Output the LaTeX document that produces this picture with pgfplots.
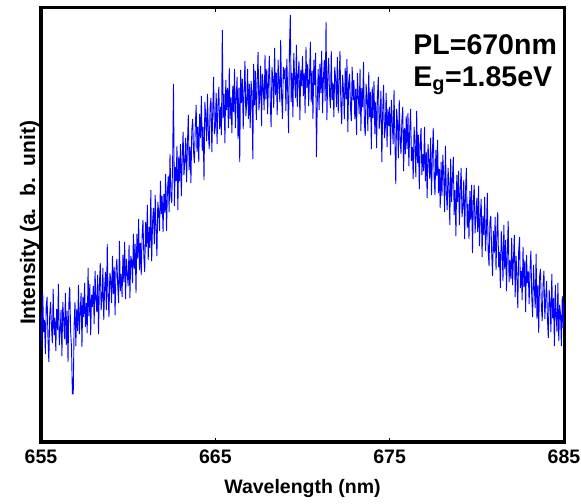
\documentclass[border=0pt]{standalone}
\usepackage{pgfplots}
\pgfplotsset{compat=1.18}
\usepackage{fontspec}
\setmainfont{Liberation Sans}

\begin{document}
\begin{tikzpicture}
\begin{axis}[
    name=ax,
    scale only axis,
    width=523bp, height=434bp,
    xmin=655, xmax=685,
    ymin=0, ymax=434,
    xtick={655,665,675,685},
    ytick=\empty,
    every axis/.append style={line width=3bp},
    axis line style={line width=3bp},
    major tick length=4bp,
    tick style={black, line width=1.5bp},
    /pgf/number format/assume math mode=true,
    xticklabel style={font=\fontsize{19.5bp}{22bp}\selectfont\bfseries,
        anchor=base, inner sep=0pt, yshift=-21bp},
    xlabel={Wavelength (nm)},
    xlabel style={font=\fontsize{19.5bp}{22bp}\selectfont\bfseries,
        at={(rel axis cs:0.5,0)}, anchor=base, inner sep=0pt, yshift=-51bp},
    ylabel={Intensity (a.\ \ b.\ \ unit)},
    ylabel style={font=\fontsize{21bp}{24bp}\selectfont\bfseries,
        at={(rel axis cs:0,0.52)}, anchor=south, inner sep=0pt, xshift=-6.5bp},
]
% PL spectrum, 0.05 nm steps, intensity in arbitrary units
\addplot[blue, line width=0.9bp, line join=bevel, no marks] coordinates {
(655.00,130) (655.05,93) (655.10,149) (655.15,110) (655.20,122) (655.25,88) (655.30,136) (655.35,145) (655.40,104) (655.45,80)
(655.50,127) (655.55,140) (655.60,115) (655.65,99) (655.70,153) (655.75,107) (655.80,124) (655.85,91) (655.90,133) (655.95,112)
(656.00,158) (656.05,97) (656.10,110) (656.15,132) (656.20,86) (656.25,140) (656.30,122) (656.35,103) (656.40,149) (656.45,97)
(656.50,131) (656.55,80) (656.60,139) (656.65,155) (656.70,110) (656.75,95) (656.80,48) (656.85,48) (656.90,118) (656.95,140)
(657.00,96) (657.05,133) (657.10,111) (657.15,157) (657.20,108) (657.25,130) (657.30,149) (657.35,95) (657.40,145) (657.45,125)
(657.50,159) (657.55,115) (657.60,139) (657.65,109) (657.70,174) (657.75,126) (657.80,158) (657.85,107) (657.90,147) (657.95,135)
(658.00,156) (658.05,118) (658.10,171) (658.15,143) (658.20,130) (658.25,167) (658.30,108) (658.35,157) (658.40,179) (658.45,132)
(658.50,143) (658.55,174) (658.60,122) (658.65,154) (658.70,170) (658.75,132) (658.80,198) (658.85,145) (658.90,125) (658.95,169)
(659.00,163) (659.05,139) (659.10,186) (659.15,148) (659.20,175) (659.25,127) (659.30,171) (659.35,183) (659.40,157) (659.45,139)
(659.50,201) (659.55,151) (659.60,168) (659.65,145) (659.70,187) (659.75,160) (659.80,200) (659.85,143) (659.90,183) (659.95,168)
(660.00,156) (660.05,197) (660.10,144) (660.15,186) (660.20,181) (660.25,159) (660.30,208) (660.35,173) (660.40,198) (660.45,149)
(660.50,208) (660.55,183) (660.60,223) (660.65,172) (660.70,199) (660.75,167) (660.80,207) (660.85,222) (660.90,185) (660.95,170)
(661.00,220) (661.05,195) (661.10,237) (661.15,182) (661.20,215) (661.25,194) (661.30,252) (661.35,181) (661.40,220) (661.45,234)
(661.50,198) (661.55,247) (661.60,212) (661.65,186) (661.70,240) (661.75,230) (661.80,211) (661.85,261) (661.90,228) (661.95,246)
(662.00,210) (662.05,248) (662.10,229) (662.15,268) (662.20,211) (662.25,250) (662.30,266) (662.35,230) (662.40,288) (662.45,246)
(662.50,239) (662.55,279) (662.60,358) (662.65,236) (662.70,275) (662.75,261) (662.80,296) (662.85,232) (662.90,285) (662.95,261)
(663.00,298) (663.05,246) (663.10,284) (663.15,310) (663.20,267) (663.25,280) (663.30,304) (663.35,260) (663.40,298) (663.45,327)
(663.50,272) (663.55,295) (663.60,259) (663.65,312) (663.70,323) (663.75,290) (663.80,279) (663.85,315) (663.90,337) (663.95,290)
(664.00,315) (664.05,280) (664.10,328) (664.15,304) (664.20,346) (664.25,291) (664.30,315) (664.35,262) (664.40,340) (664.45,326)
(664.50,301) (664.55,348) (664.60,308) (664.65,293) (664.70,335) (664.75,344) (664.80,290) (664.85,330) (664.90,365) (664.95,308)
(665.00,315) (665.05,349) (665.10,298) (665.15,338) (665.20,355) (665.25,313) (665.30,335) (665.35,307) (665.40,412) (665.45,324)
(665.50,348) (665.55,299) (665.60,362) (665.65,332) (665.70,354) (665.75,314) (665.80,374) (665.85,323) (665.90,345) (665.95,309)
(666.00,356) (666.05,330) (666.10,373) (666.15,314) (666.20,346) (666.25,365) (666.30,303) (666.35,354) (666.40,280) (666.45,372)
(666.50,339) (666.55,363) (666.60,313) (666.65,352) (666.70,381) (666.75,326) (666.80,338) (666.85,373) (666.90,323) (666.95,358)
(667.00,314) (667.05,361) (667.10,350) (667.15,283) (667.20,378) (667.25,337) (667.30,371) (667.35,322) (667.40,359) (667.45,390)
(667.50,332) (667.55,346) (667.60,376) (667.65,316) (667.70,368) (667.75,355) (667.80,332) (667.85,387) (667.90,343) (667.95,373)
(668.00,328) (668.05,362) (668.10,386) (668.15,341) (668.20,315) (668.25,375) (668.30,362) (668.35,334) (668.40,394) (668.45,347)
(668.50,369) (668.55,327) (668.60,382) (668.65,358) (668.70,340) (668.75,402) (668.80,346) (668.85,323) (668.90,375) (668.95,363)
(669.00,374) (669.05,331) (669.10,383) (669.15,351) (669.20,309) (669.25,392) (669.30,427) (669.35,340) (669.40,369) (669.45,325)
(669.50,389) (669.55,363) (669.60,344) (669.65,397) (669.70,335) (669.75,367) (669.80,381) (669.85,322) (669.90,372) (669.95,356)
(670.00,386) (670.05,346) (670.10,369) (670.15,329) (670.20,395) (670.25,354) (670.30,378) (670.35,336) (670.40,363) (670.45,400)
(670.50,340) (670.55,371) (670.60,323) (670.65,382) (670.70,357) (670.75,389) (670.80,285) (670.85,342) (670.90,373) (670.95,332)
(671.00,378) (671.05,349) (671.10,391) (671.15,329) (671.20,364) (671.25,382) (671.30,341) (671.35,420) (671.40,322) (671.45,368)
(671.50,384) (671.55,348) (671.60,334) (671.65,391) (671.70,342) (671.75,359) (671.80,325) (671.85,375) (671.90,363) (671.95,335)
(672.00,385) (672.05,329) (672.10,360) (672.15,391) (672.20,337) (672.25,318) (672.30,367) (672.35,352) (672.40,323) (672.45,374)
(672.50,343) (672.55,383) (672.60,310) (672.65,360) (672.70,368) (672.75,335) (672.80,321) (672.85,375) (672.90,342) (672.95,362)
(673.00,323) (673.05,353) (673.10,307) (673.15,369) (673.20,346) (673.25,328) (673.30,373) (673.35,311) (673.40,354) (673.45,335)
(673.50,380) (673.55,319) (673.60,306) (673.65,358) (673.70,344) (673.75,311) (673.80,370) (673.85,325) (673.90,350) (673.95,293)
(674.00,355) (674.05,324) (674.10,361) (674.15,308) (674.20,340) (674.25,294) (674.30,347) (674.35,365) (674.40,313) (674.45,324)
(674.50,351) (674.55,280) (674.60,330) (674.65,357) (674.70,304) (674.75,314) (674.80,349) (674.85,295) (674.90,333) (674.95,316)
(675.00,335) (675.05,287) (675.10,342) (675.15,319) (675.20,298) (675.25,352) (675.30,303) (675.35,258) (675.40,333) (675.45,319)
(675.50,284) (675.55,342) (675.60,303) (675.65,288) (675.70,321) (675.75,335) (675.80,271) (675.85,314) (675.90,288) (675.95,326)
(676.00,293) (676.05,329) (676.10,276) (676.15,311) (676.20,333) (676.25,281) (676.30,295) (676.35,263) (676.40,315) (676.45,300)
(676.50,265) (676.55,331) (676.60,279) (676.65,307) (676.70,253) (676.75,298) (676.80,314) (676.85,267) (676.90,288) (676.95,271)
(677.00,315) (677.05,261) (677.10,290) (677.15,244) (677.20,298) (677.25,281) (677.30,263) (677.35,304) (677.40,247) (677.45,288)
(677.50,314) (677.55,265) (677.60,247) (677.65,292) (677.70,266) (677.75,302) (677.80,249) (677.85,273) (677.90,234) (677.95,280)
(678.00,246) (678.05,287) (678.10,267) (678.15,230) (678.20,296) (678.25,249) (678.30,232) (678.35,274) (678.40,257) (678.45,217)
(678.50,283) (678.55,240) (678.60,263) (678.65,285) (678.70,227) (678.75,252) (678.80,206) (678.85,267) (678.90,240) (678.95,271)
(679.00,217) (679.05,252) (679.10,274) (679.15,225) (679.20,237) (679.25,262) (679.30,203) (679.35,251) (679.40,274) (679.45,214)
(679.50,238) (679.55,203) (679.60,251) (679.65,222) (679.70,257) (679.75,189) (679.80,240) (679.85,257) (679.90,209) (679.95,226)
(680.00,244) (680.05,210) (680.10,256) (680.15,196) (680.20,226) (680.25,243) (680.30,185) (680.35,226) (680.40,207) (680.45,245)
(680.50,191) (680.55,211) (680.60,249) (680.65,191) (680.70,176) (680.75,220) (680.80,226) (680.85,191) (680.90,166) (680.95,211)
(681.00,189) (681.05,225) (681.10,172) (681.15,209) (681.20,230) (681.25,175) (681.30,190) (681.35,154) (681.40,211) (681.45,194)
(681.50,161) (681.55,217) (681.60,173) (681.65,202) (681.70,151) (681.75,191) (681.80,221) (681.85,160) (681.90,182) (681.95,163)
(682.00,204) (682.05,157) (682.10,183) (682.15,207) (682.20,145) (682.25,186) (682.30,167) (682.35,134) (682.40,191) (682.45,205)
(682.50,154) (682.55,171) (682.60,142) (682.65,195) (682.70,155) (682.75,181) (682.80,130) (682.85,187) (682.90,159) (682.95,171)
(683.00,138) (683.05,172) (683.10,191) (683.15,145) (683.20,125) (683.25,177) (683.30,154) (683.35,134) (683.40,188) (683.45,123)
(683.50,157) (683.55,109) (683.60,165) (683.65,173) (683.70,137) (683.75,121) (683.80,157) (683.85,171) (683.90,123) (683.95,143)
(684.00,161) (684.05,123) (684.10,104) (684.15,152) (684.20,140) (684.25,110) (684.30,168) (684.35,124) (684.40,144) (684.45,96)
(684.50,157) (684.55,126) (684.60,110) (684.65,159) (684.70,101) (684.75,137) (684.80,128) (684.85,96) (684.90,146) (684.95,114)
(685.00,140)
};
\node[anchor=base west, inner sep=0pt,
      font=\fontsize{28.5bp}{32bp}\selectfont\bfseries]
      at (axis cs:676.28,387) {PL=670nm};
\node[anchor=base west, inner sep=0pt,
      font=\fontsize{28.5bp}{32bp}\selectfont\bfseries]
      at (axis cs:676.28,355) {E\textsubscript{g}=1.85eV};
\end{axis}
\pgfresetboundingbox
\path[use as bounding box] ([shift={(-41bp,-62bp)}]ax.south west)
    rectangle ([shift={(17bp,8bp)}]ax.north east);
\end{tikzpicture}
\end{document}
